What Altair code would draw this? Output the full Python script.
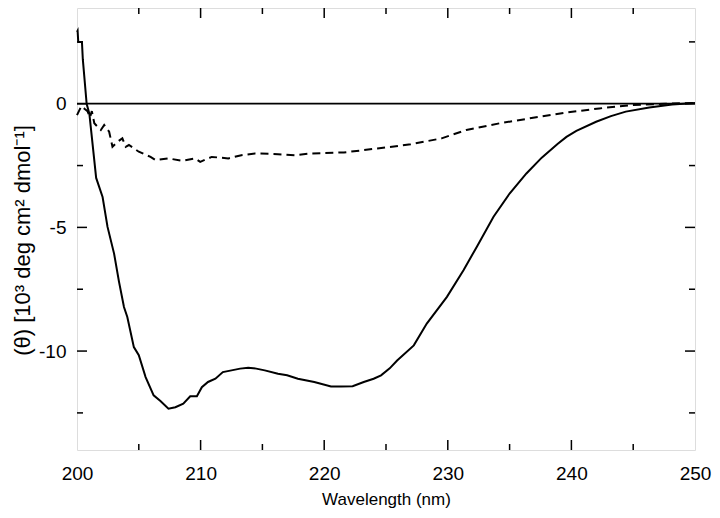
import altair as alt
import pandas as pd

# Solid curve (wavelength nm, ellipticity 10^3 deg cm^2 dmol^-1)
solid_x = [200.0, 200.05, 200.1, 200.4, 200.47, 200.78, 201.0, 201.55, 202.07, 202.47,
           203.0, 203.4, 203.8, 204.07, 204.6, 205.0, 205.55, 206.2, 206.75, 207.4,
           207.96, 208.6, 209.16, 209.7, 210.1, 210.6, 211.2, 211.8, 212.5, 213.2,
           213.85, 214.5, 215.19, 216.26, 217.0, 217.87, 219.2, 220.55, 221.36, 222.3,
           223.2, 224.0, 224.6, 225.3, 225.9, 227.25, 228.3, 229.93, 231.27, 232.34,
           233.7, 235.0, 236.36, 237.6, 238.9, 239.6, 240.4, 242.0, 243.2, 244.4,
           246.3, 248.15, 250.0]
solid_y = [2.9, 2.95, 2.5, 2.5, 1.8, 0.0, -0.4, -3.0, -3.77, -4.98,
           -6.06, -7.2, -8.22, -8.62, -9.84, -10.17, -11.05, -11.79, -12.02, -12.33,
           -12.27, -12.13, -11.83, -11.83, -11.46, -11.25, -11.12, -10.85, -10.78, -10.71,
           -10.67, -10.71, -10.78, -10.92, -10.98, -11.12, -11.25, -11.43, -11.43, -11.42,
           -11.25, -11.12, -10.98, -10.7, -10.38, -9.77, -8.89, -7.81, -6.73, -5.79,
           -4.57, -3.63, -2.82, -2.18, -1.62, -1.34, -1.1, -0.73, -0.5, -0.32,
           -0.15, -0.03, 0.03]

# Dashed curve
dash_x = [200.0, 200.35, 200.6, 200.85, 201.05, 201.2, 201.4, 201.66, 201.93, 202.2,
          202.6, 202.87, 203.27, 203.67, 203.94, 204.2, 205.0, 205.95, 206.35, 207.4,
          208.5, 209.56, 209.97, 210.9, 212.24, 213.3, 214.4, 216.26, 217.6, 218.95,
          221.6, 224.3, 227.0, 229.5, 231.5, 234.2, 236.9, 239.57, 242.26, 244.9,
          247.6, 250.0]
dash_y = [-0.46, -0.1, -0.2, -0.3, -0.55, -0.3, -0.79, -0.93, -1.06, -0.86,
          -1.13, -1.74, -1.54, -1.40, -1.74, -1.67, -1.94, -2.15, -2.28, -2.21,
          -2.31, -2.21, -2.35, -2.15, -2.21, -2.08, -2.01, -2.04, -2.08, -2.01,
          -1.97, -1.81, -1.64, -1.40, -1.06, -0.79, -0.57, -0.36, -0.19, -0.05,
          0.0, 0.03]

x_labels = [200, 210, 220, 230, 240, 250]
y_labels = [0, -5, -10]
x_major = [210, 220, 230, 240]
x_minor = [205, 215, 225, 235, 245]
y_major = [0, -5, -10]
y_minor = [2.5, -2.5, -7.5, -12.5]

W, H = 618, 442
FONT = "Liberation Sans"

xs = alt.Scale(domain=[200, 250], nice=False, zero=False)
ys = alt.Scale(domain=[-14, 3.87], nice=False, zero=False)

solid_df = pd.DataFrame({"wl": solid_x, "theta": solid_y, "i": range(len(solid_x))})
dash_df = pd.DataFrame({"wl": dash_x, "theta": dash_y, "i": range(len(dash_x))})

x_axis = alt.Axis(values=x_labels, title="Wavelength (nm)", grid=False, domain=False,
                  ticks=False, tickSize=0, labelPadding=14, labelFontSize=19,
                  labelFlush=False,
                  titleFontSize=17, titleFontWeight="normal", titlePadding=8,
                  labelFont=FONT, titleFont=FONT, labelColor="black", titleColor="black")
y_axis = alt.Axis(values=y_labels, title="(θ) [10³ deg cm² dmol⁻¹]", grid=False, domain=False,
                  ticks=False, tickSize=0, labelPadding=11, labelFontSize=19,
                  labelFlush=False,
                  labelExpr="'' + datum.value",
                  titleFontSize=22, titleFontWeight="normal", titlePadding=4,
                  titleY=232,
                  labelFont=FONT, titleFont=FONT, labelColor="black", titleColor="black")

solid = alt.Chart(solid_df).mark_line(color="black", strokeWidth=2).encode(
    x=alt.X("wl:Q", scale=xs, axis=x_axis),
    y=alt.Y("theta:Q", scale=ys, axis=y_axis),
    order="i:Q",
)
dashed = alt.Chart(dash_df).mark_line(color="black", strokeWidth=2, strokeDash=[8, 5]).encode(
    x=alt.X("wl:Q", scale=xs),
    y=alt.Y("theta:Q", scale=ys),
    order="i:Q",
)
zero = alt.Chart(pd.DataFrame({"z": [0]})).mark_rule(color="black", strokeWidth=1.8).encode(
    y=alt.Y("z:Q", scale=ys)
)


def xticks(vals, length):
    df = pd.DataFrame({"v": vals})
    bottom = alt.Chart(df).mark_rule(color="black", strokeWidth=1.5).encode(
        x=alt.X("v:Q", scale=xs), y=alt.value(H), y2=alt.value(H - length))
    top = alt.Chart(df).mark_rule(color="black", strokeWidth=1.5).encode(
        x=alt.X("v:Q", scale=xs), y=alt.value(0), y2=alt.value(length))
    return [bottom, top]


def yticks(vals, length):
    df = pd.DataFrame({"v": vals})
    left = alt.Chart(df).mark_rule(color="black", strokeWidth=1.5).encode(
        y=alt.Y("v:Q", scale=ys), x=alt.value(0), x2=alt.value(length))
    right = alt.Chart(df).mark_rule(color="black", strokeWidth=1.5).encode(
        y=alt.Y("v:Q", scale=ys), x=alt.value(W), x2=alt.value(W - length))
    return [left, right]


layers = [zero, dashed, solid] + xticks(x_major, 10) + xticks(x_minor, 6) \
    + yticks(y_major, 10) + yticks(y_minor, 6)

chart = alt.layer(*layers).properties(
    width=W, height=H,
    autosize=alt.AutoSizeParams(type="none"),
    padding={"left": 69, "top": 0, "right": 17, "bottom": 60},
).configure_view(
    stroke="black", strokeWidth=2
).configure(background="white")

chart.save("out.html", embed_options={"renderer": "svg", "actions": False})
